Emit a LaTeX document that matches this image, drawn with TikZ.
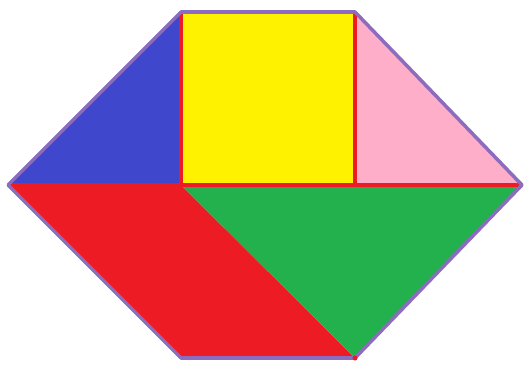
\documentclass[tikz,border=0pt]{standalone}
\usepackage{tikz}
\definecolor{tanblue}{RGB}{63,72,204}
\definecolor{tanyellow}{RGB}{255,242,0}
\definecolor{tanpink}{RGB}{255,174,201}
\definecolor{tanred}{RGB}{237,28,36}
\definecolor{tangreen}{RGB}{34,177,76}
\definecolor{tanrim}{RGB}{140,108,190}
\begin{document}
\begin{tikzpicture}[x=0.02cm,y=-0.02cm,line join=round]
  \useasboundingbox (0,0) rectangle (525,365);
  \coordinate (L) at (8,185);
  \coordinate (TL) at (181,12);
  \coordinate (TR) at (355,12);
  \coordinate (R) at (522,185);
  \coordinate (BR) at (355,358);
  \coordinate (BL) at (181,358);
  \coordinate (C1) at (181,185);
  \coordinate (C2) at (355,185);
  % pieces
  \fill[tanblue] (L) -- (TL) -- (C1) -- cycle;
  \fill[tanyellow] (TL) rectangle (C2);
  \fill[tanpink] (TR) -- (R) -- (C2) -- cycle;
  \fill[tanred] (L) -- (C1) -- (BR) -- (BL) -- cycle;
  \fill[tangreen] (C1) -- (R) -- (BR) -- cycle;
  % red seams
  \draw[tanred,line width=1.8pt] (L) -- (R);
  \draw[tanred,line width=1.8pt] (TL) -- (C1) (TR) -- (C2);
  % outline
  \draw[tanrim,line width=2pt] (L) -- (TL) -- (TR) -- (R) -- (BR) -- (BL) -- cycle;
  \fill[tanred] (BR) circle (2.5);
\end{tikzpicture}
\end{document}
